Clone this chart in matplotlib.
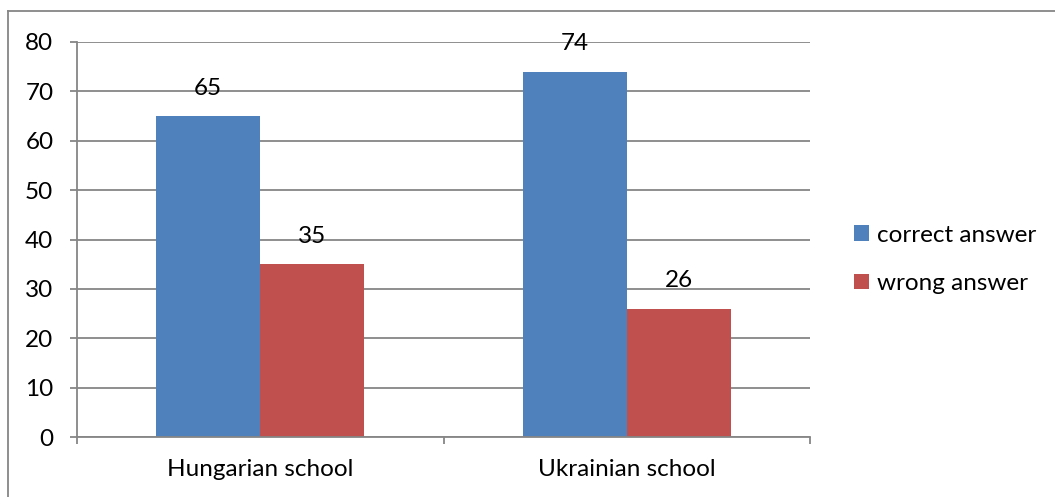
import matplotlib
matplotlib.use("Agg")
import matplotlib.pyplot as plt
from matplotlib.lines import Line2D

schools = ["Hungarian school", "Ukrainian school"]
correct = [65, 74]
wrong = [35, 26]
series_names = ["correct answer", "wrong answer"]

blue = "#4F81BD"
red = "#C0504D"
grid_grey = "#868686"

plt.rcParams["font.family"] = ["Lato", "DejaVu Sans"]
plt.rcParams["font.size"] = 17.5

fig = plt.figure(figsize=(10.55, 4.97), dpi=100)
ax = fig.add_axes([0.073, 0.1207, 0.695, 0.7948])

w = 0.284
xs = list(range(len(schools)))
b1 = ax.bar([x - w / 2 for x in xs], correct, w, color=blue, label=series_names[0], zorder=2)
b2 = ax.bar([x + w / 2 for x in xs], wrong, w, color=red, label=series_names[1], zorder=2)

for bars, vals in ((b1, correct), (b2, wrong)):
    for rect, v in zip(bars, vals):
        ax.annotate(str(v), (rect.get_x() + rect.get_width() / 2, v),
                    xytext=(0, 20), textcoords="offset points",
                    ha="center", va="center", zorder=3)

ax.set_xlim(-0.5, len(schools) - 0.5)
ax.set_ylim(0, 80)
ax.set_yticks(range(0, 81, 10))
ax.yaxis.grid(True, color=grid_grey, linewidth=1.3, zorder=0)
ax.set_axisbelow(True)

# category boundaries get the tick marks, the names sit between them
ax.set_xticks([-0.5, 0.5, 1.5])
ax.set_xticklabels([])
ax.set_xticks(xs, minor=True)
ax.set_xticklabels(schools, minor=True)
ax.tick_params(axis="x", which="minor", length=0, pad=16)
ax.tick_params(axis="x", which="major", length=5, width=1.3, color=grid_grey, direction="out")
ax.tick_params(axis="y", length=5, width=1.3, color=grid_grey, direction="out", pad=12)

for s in ("top", "right"):
    ax.spines[s].set_visible(False)
for s in ("left", "bottom"):
    ax.spines[s].set_color(grid_grey)
    ax.spines[s].set_linewidth(1.3)

fig.legend(handles=[b1, b2], labels=series_names, loc="center left",
           bbox_to_anchor=(0.789, 0.478), frameon=False,
           handlelength=0.62, handleheight=0.62, handletextpad=0.3, labelspacing=1.12)

# outer chart frame (only top and left edges fall inside the image)
fig.add_artist(Line2D([0.0076, 1.0], [0.978, 0.978], color=grid_grey, linewidth=1.3, transform=fig.transFigure))
fig.add_artist(Line2D([0.0076, 0.0076], [0.0, 0.978], color=grid_grey, linewidth=1.3, transform=fig.transFigure))

fig.savefig("out.png", dpi=100)
